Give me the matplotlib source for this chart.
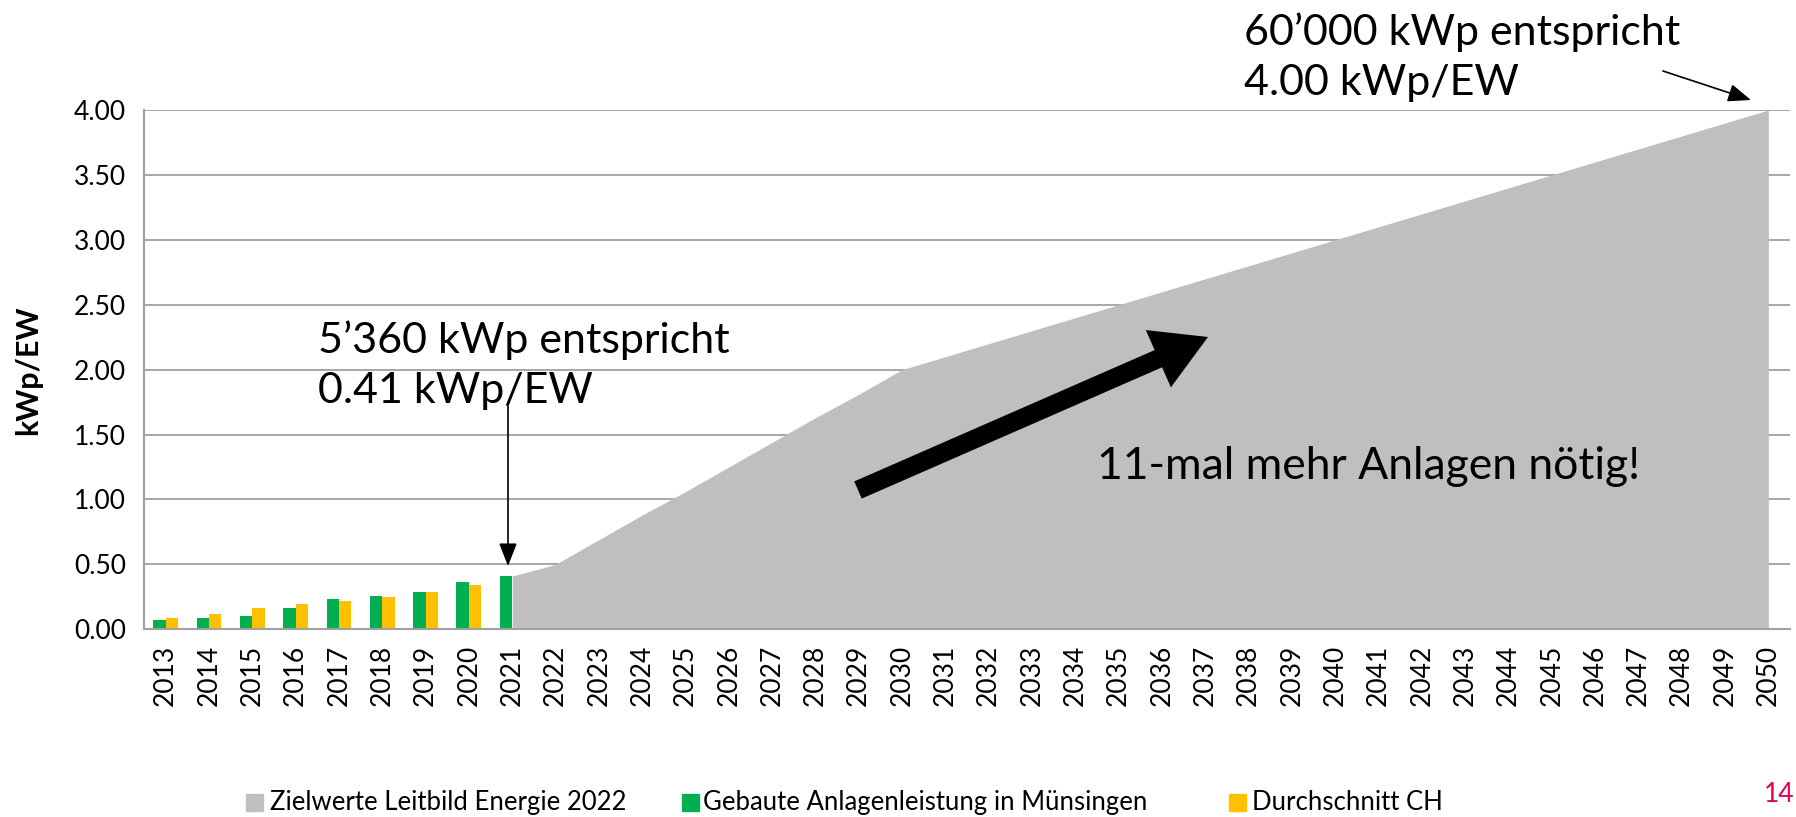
import matplotlib
matplotlib.use("Agg")
import matplotlib.pyplot as plt
from matplotlib.patches import Rectangle
import numpy as np

years = list(range(2013, 2051))
built_years = [2013, 2014, 2015, 2016, 2017, 2018, 2019, 2020, 2021]
built_muensingen = [0.069, 0.087, 0.10, 0.167, 0.236, 0.257, 0.285, 0.365, 0.41]
avg_ch_years = [2013, 2014, 2015, 2016, 2017, 2018, 2019, 2020]
avg_ch = [0.087, 0.118, 0.167, 0.198, 0.221, 0.249, 0.290, 0.341]
target_years = list(range(2021, 2051))
target_values = [0.41, 0.50, 0.69, 0.88, 1.06, 1.25, 1.44, 1.63, 1.81, 2.00,
                 2.10, 2.20, 2.30, 2.40, 2.50, 2.60, 2.70, 2.80, 2.90, 3.00,
                 3.10, 3.20, 3.30, 3.40, 3.50, 3.60, 3.70, 3.80, 3.90, 4.00]
yticks = [0.0, 0.5, 1.0, 1.5, 2.0, 2.5, 3.0, 3.5, 4.0]
legend_labels = ["Zielwerte Leitbild Energie 2022",
                 "Gebaute Anlagenleistung in Münsingen",
                 "Durchschnitt CH"]

C_GRAY = "#BFBFBF"
C_GREEN = "#00B050"
C_YELLOW = "#FFC000"

plt.rcParams["font.family"] = ["Lato", "DejaVu Sans"]

W, H = 1796, 817
S = 1796 / 1568  # displayed -> full
fig = plt.figure(figsize=(W / 100, H / 100), dpi=100)
ax = fig.add_axes([144 / W, 1 - 629.3 / H, (1790 - 144) / W, (629.3 - 110) / H])

idx = {y: i for i, y in enumerate(years)}
tx = [idx[y] for y in target_years]
ax.fill_between(tx, 0, target_values, color=C_GRAY, lw=0, zorder=1)

bw = 0.286
gx = np.array([idx[y] for y in built_years])
yx = np.array([idx[y] for y in avg_ch_years])
ax.bar(gx - bw / 2, built_muensingen, width=bw, color=C_GREEN, zorder=3)
ax.bar(yx + bw / 2, avg_ch, width=bw, color=C_YELLOW, zorder=3)

ax.set_xlim(-0.5, len(years) - 0.5)
ax.set_ylim(0, 4)
ax.set_yticks(yticks)
ax.set_yticklabels([f"{v:.2f}" for v in yticks], fontsize=19)
ax.set_xticks(range(len(years)))
ax.set_xticklabels([str(y) for y in years], rotation=90, fontsize=19)
ax.tick_params(axis="both", length=0)
ax.tick_params(axis="y", pad=13)
ax.tick_params(axis="x", pad=11)
ax.grid(axis="y", color="#A0A0A0", lw=1.3, zorder=0)
ax.set_axisbelow(True)
for s in ["top", "right"]:
    ax.spines[s].set_visible(False)
for s in ["left", "bottom"]:
    ax.spines[s].set_color("#A0A0A0")
    ax.spines[s].set_linewidth(1.5)
    ax.spines[s].set_zorder(4)

fig.text(28 / W, 1 - 370 / H, "kWp/EW", rotation=90, fontsize=22, fontweight="bold",
         ha="center", va="center")

def fp(x, y):
    return (x / W, 1 - y / H)

fig.text(*fp(278 * S, 319 * S), "5’360 kWp entspricht\n0.41 kWp/EW",
         fontsize=31, ha="left", va="center", linespacing=1.4)
fig.text(*fp(1086 * S, 50 * S), "60’000 kWp entspricht\n4.00 kWp/EW",
         fontsize=31, ha="left", va="center", linespacing=1.4)
fig.text(*fp(958 * S, 407 * S), "11-mal mehr Anlagen nötig!",
         fontsize=32, ha="left", va="center")

ax.annotate("", xy=fp(508, 566), xycoords="figure fraction",
            xytext=fp(508, 404), textcoords="figure fraction",
            arrowprops=dict(arrowstyle="-|>,head_length=1.4,head_width=0.55", color="black",
                            lw=1.2, shrinkA=0, shrinkB=0))
ax.annotate("", xy=fp(1751, 100), xycoords="figure fraction",
            xytext=fp(1663, 71), textcoords="figure fraction",
            arrowprops=dict(arrowstyle="-|>,head_length=1.4,head_width=0.55", color="black",
                            lw=1.2, shrinkA=0, shrinkB=0))
ax.annotate("", xy=fp(1208, 337), xycoords="figure fraction",
            xytext=fp(858, 490), textcoords="figure fraction",
            arrowprops=dict(arrowstyle="simple,head_length=1.3,head_width=1.5,tail_width=0.45",
                            color="black", lw=0, shrinkA=0, shrinkB=0, mutation_scale=30))

# legend (manual placement)
leg_colors = [C_GRAY, C_GREEN, C_YELLOW]
sq_x = [215 * S, 595 * S, 1073 * S]
txt_x = [236 * S, 614 * S, 1093 * S]
ly = 701 * S
sq = 17
for c, sx, tx_, lab in zip(leg_colors, sq_x, txt_x, legend_labels):
    fig.patches.append(Rectangle(((sx) / W, 1 - (ly + sq / 2) / H), sq / W, sq / H,
                                 transform=fig.transFigure, color=c, figure=fig))
    fig.text(*fp(tx_, ly), lab, fontsize=18.5, ha="left", va="center")

fig.text(*fp(1553 * S, 694 * S), "14", color="#E0004D", fontsize=19, ha="center", va="center")

fig.savefig("out.png", dpi=100)
